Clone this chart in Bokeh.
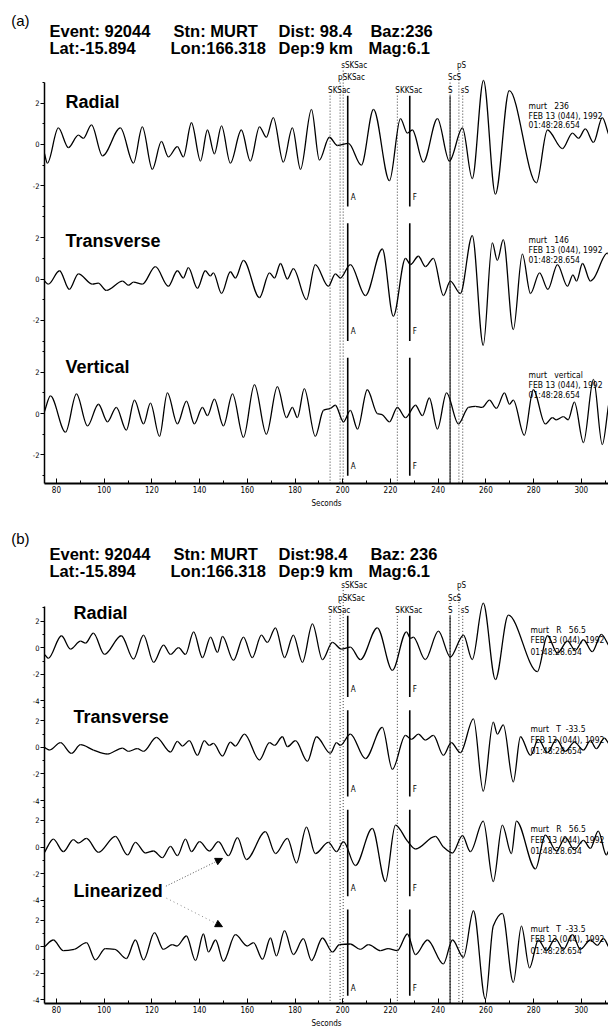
import numpy as np
from bokeh.plotting import figure
from bokeh.layouts import column
from bokeh.models import (Range1d, FixedTicker, Label, Arrow, NormalHead,
                          ColumnDataSource, LinearAxis)
from bokeh.core.properties import value
from bokeh.embed import file_html
from bokeh.resources import INLINE

# ------------------------------------------------------------------ data
tick_seconds = [80, 100, 120, 140, 160, 180, 200, 220, 240, 260, 280, 300]
minor_seconds = list(range(80, 311, 10))

header_a = [["Event: 92044", "Stn: MURT", "Dist: 98.4", "Baz:236"],
            ["Lat:-15.894", "Lon:166.318", "Dep:9 km", "Mag:6.1"]]
header_b = [["Event: 92044", "Stn: MURT", "Dist:98.4", "Baz: 236"],
            ["Lat:-15.894", "Lon:166.318", "Dep:9 km", "Mag:6.1"]]

# theoretical arrivals (s) and label row (0 = top row)
phase_names = ["SKSac", "pSKSac", "sSKSac", "SKKSac", "S", "ScS", "pS", "sS"]
phase_times = [194.7, 198.9, 200.2, 222.9, 245.0, 245.0, 248.7, 250.3]
phase_rows = [2, 1, 0, 2, 2, 1, 0, 2]
phase_solid = [False, False, False, False, True, False, False, False]

# analysis window markers
window_names = ["A", "F"]
window_times = [202.1, 228.1]

station_date = "FEB 13 (044), 1992"
station_time = "01:48:28.654"
ids_a = ["murt   236", "murt   146", "murt   vertical"]
ids_b = ["murt   R   56.5", "murt   T  -33.5", "murt   R   56.5", "murt   T  -33.5"]

names_a = ["Radial", "Transverse", "Vertical"]
names_b = ["Radial", "Transverse"]
ytick_labels_a = [2, 0, -2]
ytick_labels_b = [2, 0, -2, -4]

# waveform turning points (seconds, amplitude) read from the record
a_radial = [(75.0, -0.45), (76.2, -0.9), (80.8, 0.8), (85.0, -0.15), (89.2, 0.45), (91.3, 0.3),
            (94.7, 0.95), (99.3, -0.55), (106.8, 0.8), (112.3, -0.9), (116.0, 0.85), (120.2, -1.2),
            (124.0, 0.15), (126.9, -0.6), (130.7, -0.1), (133.2, -0.6), (136.6, 1.05), (140.4, -0.8),
            (143.3, 0.7), (146.2, -0.45), (149.2, 0.9), (152.9, -0.9), (157.5, 0.7), (161.3, -0.8),
            (165.1, 0.85), (168.0, 0.35), (170.9, 1.3), (175.1, -0.85), (178.9, 0.8), (182.3, -1.2),
            (186.9, 1.7), (190.2, -0.75), (194.4, 0.35), (197.8, -0.05), (202.4, 0.05), (207.8, -1.0),
            (212.9, 1.7), (219.6, -1.75), (224.2, 1.25), (227.1, 0.55), (229.2, 0.7), (233.8, -0.85),
            (239.7, 1.25), (244.7, -0.8), (250.2, 0.8), (254.3, -1.65), (259.0, 3.1), (264.0, -2.4),
            (269.8, 2.6), (281.2, -1.85), (285.8, 0.7), (292.1, -0.2), (296.3, 0.55), (298.8, 0.3),
            (301.7, 0.75), (305.1, 0.1), (308.8, 1.3), (311.4, 0.5)]

a_transverse = [(75.0, -0.1), (76.6, -0.25), (81.3, 0.4), (85.4, -0.5), (89.2, 0.25), (95.1, -0.25),
                (97.5, -0.2), (101.0, -0.55), (107.7, -0.1), (110.2, -0.3), (112.3, -0.15), (116.0, -0.25),
                (121.5, 0.6), (126.9, -0.35), (130.7, 0.4), (133.2, 0.05), (135.3, 0.55), (139.1, -0.45),
                (142.4, 0.4), (144.5, 0.15), (145.8, 0.3), (149.2, -0.7), (152.9, 0.35), (155.0, 0.05),
                (158.4, 0.9), (165.1, -0.9), (169.3, 0.3), (171.4, 0.05), (173.9, 0.75), (176.8, 0.0),
                (179.3, 0.5), (184.8, -1.0), (188.5, 0.7), (194.0, -0.35), (196.9, 0.25), (199.0, 0.05),
                (203.2, 0.7), (209.5, -0.8), (216.6, 1.45), (221.2, -1.8), (226.3, 1.0), (228.4, 0.7),
                (231.7, 1.1), (234.7, 0.6), (238.0, 1.0), (242.2, -0.8), (245.1, -0.1), (249.3, -0.7),
                (254.3, 2.1), (258.9, -3.2), (262.7, 1.75), (264.8, 0.9), (267.3, 1.9), (271.5, -2.45),
                (275.3, 1.2), (278.7, -0.7), (282.5, 0.3), (286.0, -0.5), (290.0, 0.7), (294.2, -0.35),
                (296.5, 0.2), (298.0, -0.1), (300.5, 0.75), (303.8, -0.1), (305.0, 0.0), (310.9, 1.25),
                (311.4, 1.2)]

a_vertical = [(75.0, 0.1), (77.5, 0.85), (83.8, -0.9), (88.4, 0.95), (93.0, -0.6), (97.6, 0.45),
              (101.4, -0.4), (105.1, 0.3), (109.3, -0.8), (112.7, 0.65), (116.5, -0.5), (119.4, 0.5),
              (123.2, -1.1), (126.5, 1.0), (130.7, -0.5), (134.5, 0.6), (137.8, -0.5), (141.2, 0.3),
              (143.3, -0.1), (146.2, 0.7), (150.0, -0.6), (153.8, 0.95), (158.4, -1.15), (163.0, 1.4),
              (168.0, -1.0), (172.6, 1.3), (176.4, -0.2), (178.9, 0.3), (181.0, -0.2), (183.9, 1.2),
              (188.5, -1.1), (191.9, 0.15), (194.8, 0.25), (196.9, 0.4), (200.3, -0.4), (203.2, 0.15),
              (206.2, -0.75), (210.3, 1.15), (214.5, 0.0), (216.5, -0.05), (219.6, -0.4), (222.9, 0.3),
              (226.3, -0.2), (230.5, 0.4), (233.4, -0.1), (236.3, 0.75), (239.7, -0.75), (243.5, 1.0),
              (248.5, -0.5), (252.7, 0.3), (255.6, 0.35), (258.5, 0.3), (261.5, 0.65), (264.4, 0.25),
              (267.8, 1.0), (269.9, 0.45), (271.5, 0.65), (276.1, -1.05), (279.9, 1.15), (284.9, -0.5),
              (287.9, -0.2), (289.5, -0.3), (292.5, -0.15), (294.5, -0.3), (297.1, 0.55), (300.9, -1.4),
              (305.1, 1.65), (308.8, -1.5), (311.4, 0.4)]

b_radial = [(75.0, -0.5), (76.6, -0.8), (82.1, 0.9), (85.9, -0.1), (90.1, 0.5), (92.2, 0.35),
            (95.5, 1.1), (100.1, -0.5), (107.2, 0.9), (112.3, -0.85), (116.5, 0.95), (120.7, -1.1),
            (124.9, 0.2), (127.8, -0.5), (131.2, 0.0), (134.1, -0.5), (137.5, 1.2), (141.2, -0.75),
            (144.6, 0.8), (147.5, -0.35), (149.6, 0.85), (154.2, -0.95), (158.4, 0.8), (162.1, -0.75),
            (165.9, 0.95), (168.4, 0.4), (171.8, 1.5), (175.6, -0.75), (179.3, 0.95), (183.1, -1.1),
            (187.3, 1.8), (191.5, -0.9), (195.7, 0.4), (199.4, -0.1), (203.2, 0.05), (207.4, -0.9),
            (214.5, 1.5), (220.8, -1.7), (226.7, 1.2), (228.4, 0.7), (229.6, 0.8), (234.6, -0.9),
            (240.1, 1.25), (245.1, -0.7), (250.6, 0.95), (254.3, -0.9), (258.9, 3.35), (264.0, -2.4),
            (269.4, 2.45), (281.6, -1.8), (285.8, 0.9), (290.0, -0.4), (294.2, 0.5), (297.5, -0.2),
            (300.9, 0.6), (304.6, -0.3), (308.4, 1.0), (311.4, 0.2)]

b_transverse = [(75.0, 0.0), (77.1, -0.2), (81.7, 0.35), (86.3, -0.45), (90.1, 0.2), (95.5, -0.2),
                (101.4, -0.5), (107.7, -0.05), (110.2, -0.3), (113.9, -0.1), (116.5, -0.3), (121.9, 0.75),
                (127.8, -0.35), (130.7, 0.45), (132.8, 0.1), (135.7, 0.5), (139.1, -0.6), (142.0, 0.5),
                (144.1, 0.15), (145.8, 0.3), (149.6, -0.65), (152.9, 0.4), (155.0, 0.1), (158.8, 1.0),
                (165.1, -0.95), (169.3, 0.35), (171.4, 0.15), (174.7, 0.8), (176.8, 0.05), (180.2, 0.5),
                (185.2, -1.05), (189.0, 0.8), (194.8, -0.45), (197.4, 0.35), (199.0, 0.15), (203.2, 1.0),
                (209.5, -0.85), (216.6, 1.5), (220.8, -1.65), (226.3, 0.9), (228.8, 0.6), (231.7, 1.0),
                (234.7, 0.55), (238.0, 0.9), (242.2, -0.6), (245.5, 0.35), (249.3, -0.4), (254.8, 2.15),
                (258.9, -3.3), (263.1, 1.9), (264.8, 1.0), (267.3, 1.7), (271.5, -2.6), (274.5, 0.8),
                (278.7, -0.6), (282.0, 0.6), (285.8, -0.4), (289.6, 0.6), (293.3, -0.3), (297.1, 0.4),
                (300.9, -0.2), (303.8, 0.5), (306.3, -0.1), (309.7, 0.7), (311.4, 0.3)]

b_lin_radial = [(75.0, -0.4), (78.7, 0.6), (82.9, -0.35), (87.1, 0.55), (89.2, 0.3), (92.6, 0.65),
                (97.6, -0.4), (104.7, 0.8), (109.8, -0.6), (113.1, 0.35), (117.3, -0.45), (120.7, -0.3),
                (124.4, -0.8), (127.8, 0.05), (130.7, -0.65), (134.1, 0.6), (136.6, -0.35), (140.0, 0.4),
                (144.1, -0.3), (147.9, 0.4), (152.1, -0.65), (155.9, 0.7), (159.6, -0.95), (167.6, 1.15),
                (171.8, -0.5), (176.8, 0.65), (180.6, -1.2), (184.8, 1.5), (188.5, -0.5), (194.0, 0.35),
                (197.4, -0.35), (200.3, 0.4), (205.3, -1.4), (212.4, 1.4), (217.9, -2.6), (222.1, 1.65),
                (227.1, 0.45), (230.5, -0.15), (238.8, 0.8), (242.2, 0.0), (246.0, -0.45), (250.2, 0.85),
                (253.5, -0.35), (258.9, 1.95), (263.1, -2.6), (266.9, 1.65), (270.7, -0.5), (272.8, 1.95),
                (280.8, -1.65), (284.9, 0.9), (289.6, -0.3), (293.3, 0.7), (297.1, -0.2), (300.9, 0.5),
                (303.8, -0.1), (307.1, 1.2), (310.5, -0.6), (311.4, -0.3)]

b_lin_transverse = [(75.0, 0.0), (78.7, 0.5), (82.9, -0.3), (87.5, -0.2), (92.6, 0.3), (96.3, -1.0),
                    (100.5, -0.15), (104.5, -0.2), (109.3, -0.9), (113.1, 0.5), (116.5, -1.0), (121.1, 1.05),
                    (124.8, -0.2), (128.6, 0.15), (130.5, 0.05), (134.5, 0.8), (138.3, -1.05), (141.6, 0.95),
                    (143.7, -0.4), (146.7, 0.5), (150.0, -1.1), (155.0, 0.9), (160.0, 0.05), (162.6, 0.3),
                    (166.4, -0.95), (169.7, 0.65), (172.2, -0.7), (175.6, 1.2), (179.3, -0.6), (183.5, 0.6),
                    (186.9, -1.05), (191.5, 0.65), (195.7, -0.4), (198.6, 0.15), (203.2, 0.2), (207.4, -0.2),
                    (210.8, 0.15), (215.8, -0.3), (219.0, -0.15), (222.9, -0.3), (227.1, 0.95), (230.5, -0.6),
                    (235.5, 0.5), (242.2, -1.3), (246.0, 0.5), (250.6, -0.8), (254.8, 2.7), (259.8, -3.95),
                    (263.1, 1.55), (266.9, 2.5), (271.5, -2.7), (274.9, 1.55), (278.3, -1.6), (282.0, 0.5),
                    (285.4, -0.3), (289.1, 0.6), (292.5, -0.2), (296.3, 0.9), (299.6, -0.2), (303.8, 0.5),
                    (306.7, 0.1), (309.3, 0.6), (311.4, 0.0)]

# ------------------------------------------------------------------ helpers
BOLD = "Liberation Sans"
NARROW = "Liberation Sans Narrow, DejaVu Sans Condensed, sans-serif"
NB = "\u00a0"


def nbsp(s, gap=4):
    return s.replace("  ", NB * gap).replace(" ", NB)


def slopes(t, u):
    h = np.diff(t)
    d = np.diff(u) / h
    m = np.zeros_like(u)
    m[0], m[-1] = d[0], d[-1]
    for i in range(1, len(u) - 1):
        if d[i - 1] * d[i] > 0:
            w1 = 2 * h[i] + h[i - 1]
            w2 = h[i] + 2 * h[i - 1]
            m[i] = (w1 + w2) / (w1 / d[i - 1] + w2 / d[i])
    return m


def draw_trace(p, pairs, off):
    t = np.array([q[0] for q in pairs], float)
    u = np.array([q[1] for q in pairs], float) + off
    m = slopes(t, u)
    h = np.diff(t)
    src = ColumnDataSource(dict(
        x0=t[:-1], y0=u[:-1], x1=t[1:], y1=u[1:],
        cx0=t[:-1] + h / 3, cy0=u[:-1] + m[:-1] * h / 3,
        cx1=t[1:] - h / 3, cy1=u[1:] - m[1:] * h / 3))
    p.bezier(x0="x0", y0="y0", x1="x1", y1="y1", cx0="cx0", cy0="cy0",
             cx1="cx1", cy1="cy1", source=src, line_color="black", line_width=1.3)


HEAD_X = [77.1, 129.1, 173.1, 211.6]   # word-group starts (s) on the header rows
HEAD_X2 = [77.1, 127.8, 173.1, 210.8]


def make_panel(height, border_bottom, yr, ytop, offsets, tick_labels, traces,
               rows, row_gap, win_top, win_bot, win_lab, names, name_x, name_dy,
               ids, id_x, id_dy, letter, header, head_y, letter_y):
    p = figure(width=608, height=height, output_backend="svg", toolbar_location=None,
               x_range=Range1d(75.0, 311.4), y_range=Range1d(*yr),
               min_border_left=44, min_border_right=0, min_border_top=0,
               min_border_bottom=border_bottom)
    p.outline_line_color = None
    p.grid.visible = False
    p.background_fill_color = "white"

    # y axis with repeated labels per trace
    majors, overrides, minors = [], {}, []
    for o in offsets:
        for lab in tick_labels:
            v = o + lab
            majors.append(v)
            overrides[v] = str(lab)
        for r in (3, 1, -1, -3):
            if yr[0] <= o + r <= ytop:
                minors.append(o + r)
    p.yaxis.ticker = FixedTicker(ticks=majors, minor_ticks=minors)
    p.yaxis.major_label_overrides = overrides
    p.yaxis.bounds = (yr[0], ytop)
    p.yaxis.major_tick_out = 4
    p.yaxis.major_tick_in = 0
    p.yaxis.minor_tick_out = 2
    p.yaxis.minor_tick_in = 0
    p.yaxis.axis_line_width = 1.5
    p.yaxis.axis_line_color = "black"
    p.yaxis.major_tick_line_color = "black"
    p.yaxis.minor_tick_line_color = "black"
    p.yaxis.major_label_standoff = 1
    p.yaxis.major_label_text_font = NARROW
    p.yaxis.major_label_text_font_size = "7.5px"
    p.yaxis.major_label_text_color = "black"

    p.xaxis.ticker = FixedTicker(ticks=tick_seconds, minor_ticks=minor_seconds)
    p.xaxis.major_tick_in = 5
    p.xaxis.major_tick_out = 0
    p.xaxis.minor_tick_in = 3
    p.xaxis.minor_tick_out = 0
    p.xaxis.axis_line_width = 2
    p.xaxis.axis_line_color = "black"
    p.xaxis.major_tick_line_color = "black"
    p.xaxis.minor_tick_line_color = "black"
    p.xaxis.major_label_standoff = 2
    p.xaxis.major_label_text_font = NARROW
    p.xaxis.major_label_text_font_size = "8px"
    p.xaxis.major_label_text_color = "black"
    p.xaxis.axis_label = "Seconds"
    p.xaxis.axis_label_text_font = NARROW
    p.xaxis.axis_label_text_font_style = "normal"
    p.xaxis.axis_label_text_font_size = "8px"
    p.xaxis.axis_label_text_color = "black"
    p.xaxis.axis_label_standoff = 3

    # panel letter as an outer, line-less axis label
    letter_axis = LinearAxis(ticker=FixedTicker(ticks=[letter_y], minor_ticks=[]),
                             major_label_overrides={letter_y: letter},
                             axis_line_color=None, major_tick_line_color=None,
                             minor_tick_line_color=None, major_tick_out=0,
                             major_tick_in=0, major_label_standoff=0,
                             major_label_text_font=BOLD,
                             major_label_text_color="black",
                             major_label_text_font_size="15px")
    p.add_layout(letter_axis, "left")

    # phase lines
    dot_x, dot_top, sol_x, sol_top = [], [], [], []
    for t, r, s in zip(phase_times, phase_rows, phase_solid):
        top = rows[r] - row_gap
        if s:
            sol_x.append(t); sol_top.append(top)
        else:
            dot_x.append(t); dot_top.append(top)
    p.segment(x0=dot_x, y0=dot_top, x1=dot_x, y1=[yr[0]] * len(dot_x),
              line_color="#222222", line_width=0.9, line_dash="1 2")
    p.segment(x0=sol_x, y0=sol_top, x1=sol_x, y1=[yr[0]] * len(sol_x),
              line_color="black", line_width=1.0)
    p.text(x=phase_times, y=[rows[r] for r in phase_rows], text=phase_names,
           text_font=value(NARROW), text_font_size=value("8px"),
           text_baseline="middle", text_align="left", x_offset=-2, text_color="black")

    # analysis window markers (segmented per trace)
    wx0, wy0, wy1, lx, ly, lt = [], [], [], [], [], []
    for name, t in zip(window_names, window_times):
        for k, o in enumerate(offsets):
            top = o + win_top
            if k == 0:
                top = min(top, rows[2] - row_gap)
            wx0.append(t); wy0.append(top); wy1.append(o - win_bot)
            lx.append(t); ly.append(o - win_lab); lt.append(name)
    p.segment(x0=wx0, y0=wy0, x1=wx0, y1=wy1, line_color="black", line_width=1.6)
    p.text(x=lx, y=ly, text=lt, text_font=value(NARROW), text_font_size=value("8px"),
           text_baseline="middle", text_align="left", x_offset=3, text_color="black")

    # traces
    for pairs, o in zip(traces, offsets):
        draw_trace(p, pairs, o)

    # station annotations
    ax, ay, at = [], [], []
    for o, ident in zip(offsets, ids):
        for txt, dy in zip([nbsp(ident, 2), nbsp(station_date, 1), station_time], id_dy):
            ax.append(id_x); ay.append(o + dy); at.append(txt)
    p.text(x=ax, y=ay, text=at, text_font=value(NARROW), text_font_size=value("8.5px"),
           text_baseline="middle", text_align="left", text_color="black")

    # component names
    for name, o, dy in zip(names, offsets, name_dy):
        p.add_layout(Label(x=name_x, y=o + dy, text=name, text_font=BOLD,
                           text_font_style="bold", text_font_size="18px",
                           text_color="black", text_baseline="middle"))

    # header rows, each as word groups
    for words, y, xs in zip(header, head_y, [HEAD_X, HEAD_X2]):
        for w, x in zip(words, xs):
            p.add_layout(Label(x=x, y=y, text=nbsp(w, 1), text_font=BOLD,
                               text_font_style="bold", text_font_size="16.5px",
                               text_color="black", text_baseline="middle"))
    return p


pa = make_panel(height=525, border_bottom=42, yr=(-16.38, 6.957), ytop=3.0,
                offsets=[0, -6.5, -13], tick_labels=ytick_labels_a,
                traces=[a_radial, a_transverse, a_vertical],
                rows=[3.82, 3.24, 2.61], row_gap=0.25,
                win_top=2.7, win_bot=3.0, win_lab=2.56,
                names=names_a, name_x=83.8, name_dy=[2.05, 1.85, 2.25],
                ids=ids_a, id_x=277.9, id_dy=[1.88, 1.40, 0.92],
                letter="(a)", header=header_a, head_y=[5.48, 4.66], letter_y=5.99)

pb = make_panel(height=505, border_bottom=24, yr=(-26.78, 9.2), ytop=3.14,
                offsets=[0, -7.5, -15, -22.5], tick_labels=ytick_labels_b,
                traces=[b_radial, b_transverse, b_lin_radial, b_lin_transverse],
                rows=[4.71, 3.74, 2.77], row_gap=0.37,
                win_top=2.8, win_bot=3.7, win_lab=3.15,
                names=names_b, name_x=87.2, name_dy=[2.6, 2.25],
                ids=ids_b, id_x=278.7, id_dy=[1.35, 0.55, -0.3],
                letter="(b)", header=header_b, head_y=[7.03, 5.76], letter_y=8.23)

pb.add_layout(Label(x=87.2, y=-18.32, text="Linearized", text_font=BOLD,
                    text_font_style="bold", text_font_size="18px", text_color="black",
                    text_baseline="middle"))
pb.add_layout(Arrow(end=NormalHead(size=7, fill_color="black", line_color="black"),
                    x_start=125.9, y_start=-17.95, x_end=149.6, y_end=-15.86,
                    line_color="#555555", line_width=1, line_dash="1 2"))
pb.add_layout(Arrow(end=NormalHead(size=7, fill_color="black", line_color="black"),
                    x_start=126.1, y_start=-18.85, x_end=149.6, y_end=-21.0,
                    line_color="#888888", line_width=1, line_dash="1 3"))

layout = column(pa, pb, spacing=0)
open("out.html", "w").write(file_html(layout, INLINE))
